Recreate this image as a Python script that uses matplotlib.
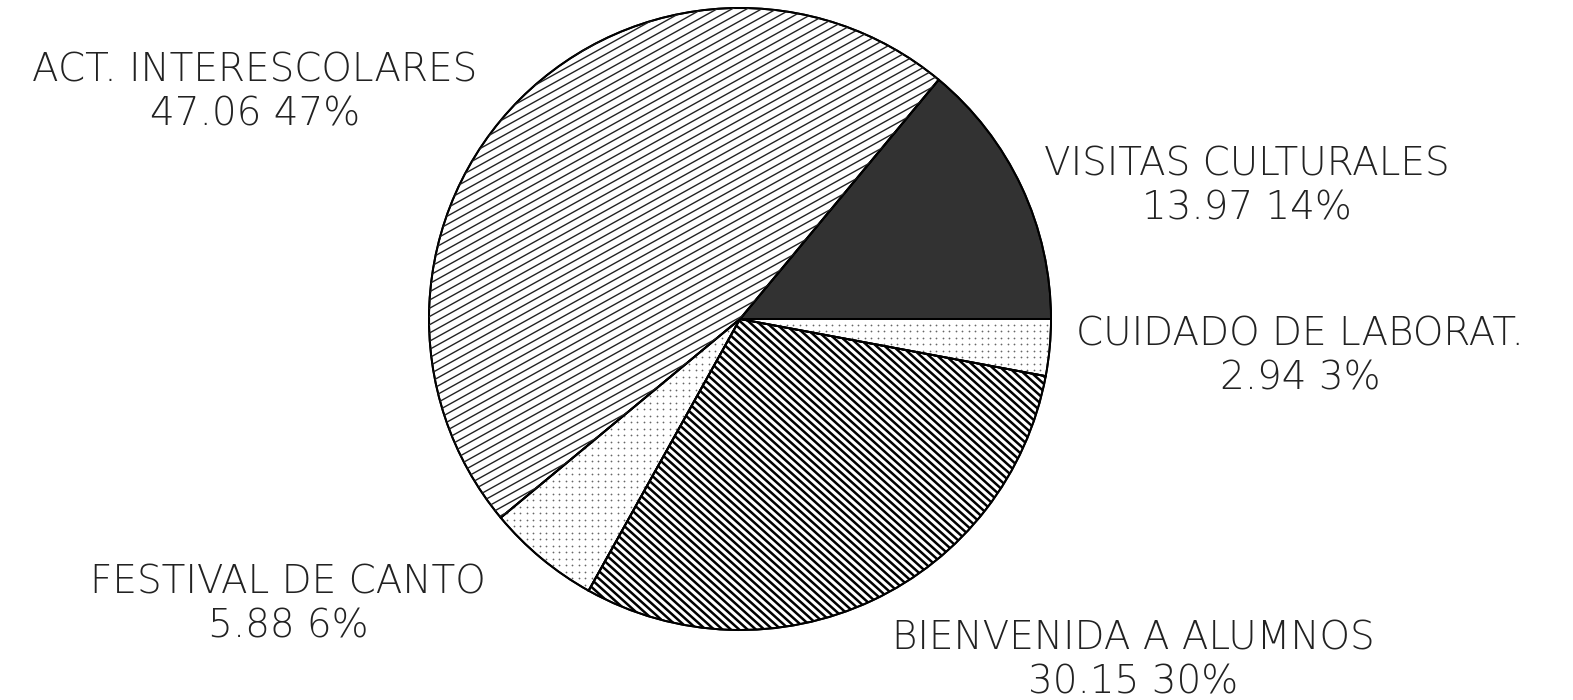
import numpy as np
import matplotlib
matplotlib.use('Agg')
import matplotlib.pyplot as plt

# Datos del gráfico
categorias = ['VISITAS CULTURALES', 'ACT. INTERESCOLARES', 'FESTIVAL DE CANTO',
              'BIENVENIDA A ALUMNOS', 'CUIDADO DE LABORAT.']
valores = [13.97, 47.06, 5.88, 30.15, 2.94]

W, H = 1573, 700
fig = plt.figure(figsize=(W / 100, H / 100), dpi=100)
ax = fig.add_axes([0, 0, 1, 1])

cx, cy, r = 740, H - 319, 311
wedges, _ = ax.pie(valores, startangle=0, counterclock=True, center=(cx, cy), radius=r,
                   colors=['#323232', 'white', 'white', 'white', 'white'],
                   wedgeprops=dict(edgecolor='black', linewidth=1.4))


def rayado(wedge, angulo, paso, lw, color='black'):
    # líneas paralelas recortadas a la cuña
    a = np.deg2rad(angulo)
    d = np.array([np.cos(a), np.sin(a)])
    n = np.array([-np.sin(a), np.cos(a)])
    for k in np.arange(-r * 1.5, r * 1.5, paso):
        p0 = np.array([cx, cy]) + n * k - d * r * 1.5
        p1 = np.array([cx, cy]) + n * k + d * r * 1.5
        ln, = ax.plot([p0[0], p1[0]], [p0[1], p1[1]], color=color, lw=lw,
                      solid_capstyle='butt')
        ln.set_clip_path(wedge)


def puntos(wedge, paso):
    xs = np.arange(cx - r, cx + r, paso)
    ys = np.arange(cy - r, cy + r, paso)
    X, Y = np.meshgrid(xs, ys)
    sc = ax.scatter(X.ravel(), Y.ravel(), s=1.6, color='#666666', linewidths=0)
    sc.set_clip_path(wedge)


rayado(wedges[1], 29, 7.2, 1.0, '#222222')
rayado(wedges[3], -42, 5.6, 1.8)
puntos(wedges[2], 6.5)
puntos(wedges[4], 6.5)

# bordes encima del rayado
ax.pie(valores, startangle=0, counterclock=True, center=(cx, cy), radius=r,
       wedgeprops=dict(edgecolor='black', linewidth=1.4, fill=False))
ax.set_xlim(0, W)
ax.set_ylim(0, H)
ax.set_aspect('equal')
ax.axis('off')

pos_etiquetas = [(1247, 187), (255, 92), (288, 605), (1133, 660), (1300, 357)]
for nombre, v, (tx, ty) in zip(categorias, valores, pos_etiquetas):
    ax.text(tx, H - ty, f'{nombre}\n{v:.2f} {round(v)}%', ha='center', va='center',
            fontsize=28, fontweight='light', family='DejaVu Sans', color='#222222',
            linespacing=1.2)

fig.savefig('out.png', dpi=100, facecolor='white')
